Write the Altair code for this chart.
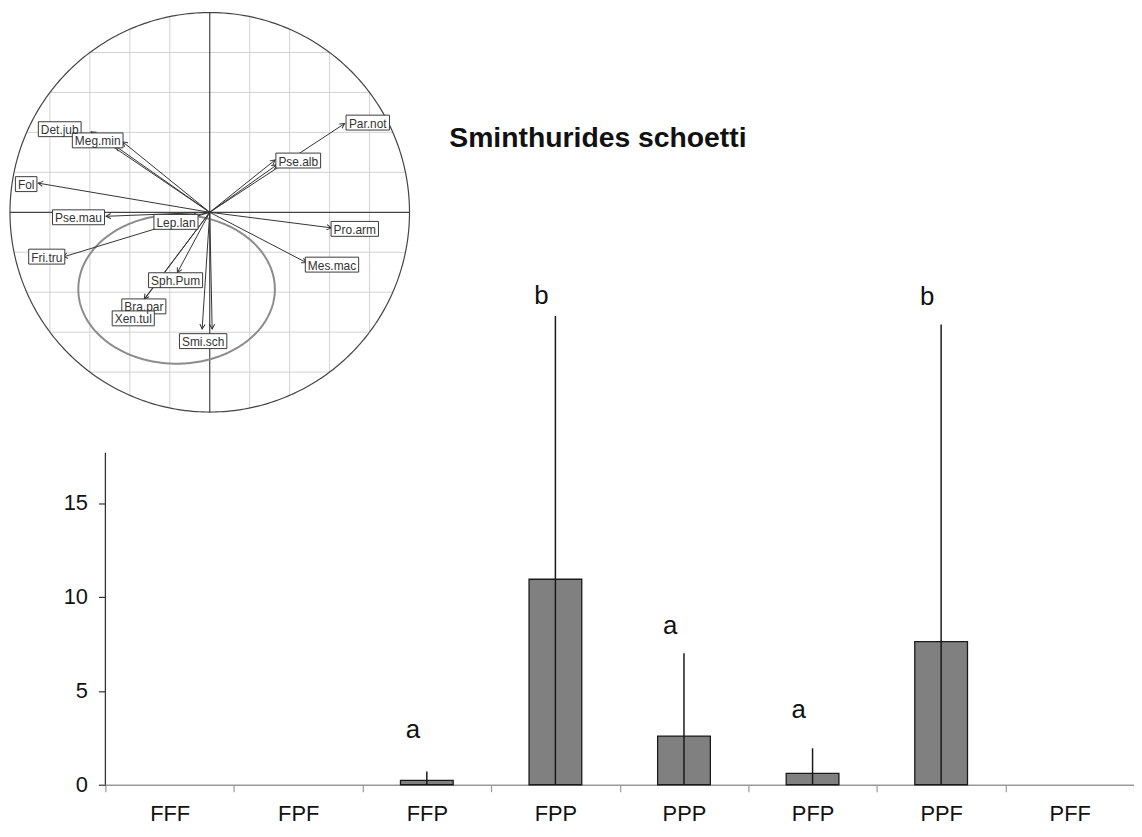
import numpy as np
import pandas as pd
import altair as alt

# ---------------- data: bar chart ----------------
CATEGORIES = ["FFF", "FPF", "FFP", "FPP", "PPP", "PFP", "PPF", "PFF"]
MEANS = [0.0, 0.0, 0.23, 10.94, 2.59, 0.60, 7.62, 0.0]
SDS = [0.0, 0.0, 0.48, 14.01, 4.41, 1.34, 16.88, 0.0]
LETTERS = ["", "", "a", "b", "a", "a", "b", ""]
LETTER_Y = [0.0, 0.0, 2.47, 25.59, 8.03, 3.53, 25.54, 0.0]
Y_TICKS = [0, 5, 10, 15]
Y_AXIS_TOP = 17.67
TITLE = "Sminthurides schoetti"

# ---------------- data: correlation circle inset ----------------
ARROW_X = [0.675, 0.327, 0.335, 0.609, 0.484, -0.038, 0.012, -0.162, -0.328,
           -0.345, -0.09, -0.519, -0.859, -0.735, -0.436, -0.470, -0.594]
ARROW_Y = [0.444, 0.262, 0.237, -0.078, -0.252, -0.584, -0.584, -0.302, -0.434,
           -0.460, -0.02, -0.020, 0.146, -0.224, 0.353, 0.330, 0.403]

LABEL_NAMES = ["Par.not", "Pse.alb", "Pro.arm", "Mes.mac", "Smi.sch", "Sph.Pum",
               "Bra.par", "Xen.tul", "Lep.lan", "Pse.mau", "Fol", "Fri.tru",
               "Det.jub", "Meg.min"]
LABEL_X = [0.791, 0.443, 0.726, 0.612, -0.033, -0.171, -0.330, -0.383, -0.169,
           -0.657, -0.919, -0.816, -0.751, -0.561]
LABEL_Y = [0.449, 0.259, -0.083, -0.262, -0.645, -0.340, -0.471, -0.531, -0.048,
           -0.025, 0.141, -0.222, 0.416, 0.360]

ELLIPSE_CENTER = (-0.166, -0.385)
ELLIPSE_RADII = (0.492, 0.373)
GRID_STEP = 0.2

# ---------------- layout ----------------
FONT = "Liberation Sans"
PAD_LEFT, PAD_TOP, PAD_RIGHT, PAD_BOTTOM = 98, 0, 0, 45
PLOT_W, PLOT_H = 1035, 779
BAR_PX_PER_UNIT = 18.9
Y_MAX = PLOT_H / BAR_PX_PER_UNIT
BAR_BAND = 0.41

# inset placement (plot-area pixel coords of circle centre, pixels per unit)
INSET_CX, INSET_CY, INSET_R = 105.0, 203.0, 201.0
XS = alt.Scale(domain=[-INSET_CX / INSET_R, (PLOT_W - INSET_CX) / INSET_R], nice=False, zero=False)
YS = alt.Scale(domain=[-(PLOT_H - INSET_CY) / INSET_R, INSET_CY / INSET_R], nice=False, zero=False)


def IX(f):
    return alt.X(f, type="quantitative", scale=XS, axis=None)


def IY(f):
    return alt.Y(f, type="quantitative", scale=YS, axis=None)


# ---------------- bar chart layers ----------------
bars_df = pd.DataFrame({"cat": CATEGORIES, "mean": MEANS, "sd": SDS,
                        "letter": LETTERS, "ly": LETTER_Y})

xenc = alt.X("cat:N", sort=CATEGORIES,
             scale=alt.Scale(domain=CATEGORIES, paddingInner=0, paddingOuter=0),
             axis=alt.Axis(title=None, labelAngle=0, tickBand="extent",
                           domainColor="#9a9a9a", domainWidth=1.5,
                           tickColor="#9a9a9a", tickWidth=1.2, tickSize=7,
                           labelFontSize=22, labelFont=FONT, labelColor="#111",
                           labelPadding=12, grid=False))
yscale = alt.Scale(domain=[0, Y_MAX], nice=False, zero=True)

base = alt.Chart(bars_df).encode(x=xenc)

bars = base.transform_filter("datum.mean > 0").mark_bar(
    color="#808080", stroke="#1a1a1a", strokeWidth=1.3,
    width=alt.RelativeBandSize(BAR_BAND)
).encode(
    y=alt.Y("mean:Q", scale=yscale,
            axis=alt.Axis(title=None, values=Y_TICKS, domain=False, grid=False,
                          tickColor="#333", tickWidth=1.2, tickSize=7,
                          labelFontSize=22, labelFont=FONT, labelColor="#111",
                          labelPadding=11))
)

errs = base.transform_filter("datum.mean > 0").transform_calculate(
    lo="max(0, datum.mean - datum.sd)", hi="datum.mean + datum.sd"
).mark_rule(color="#1a1a1a", strokeWidth=1.5).encode(
    y=alt.Y("lo:Q", scale=yscale), y2="hi:Q"
)

letters = base.transform_filter("datum.letter != ''").mark_text(
    fontSize=26, font=FONT, color="#111", dx=-14, baseline="alphabetic"
).encode(y=alt.Y("ly:Q", scale=yscale), text="letter:N")

yline_df = pd.DataFrame({"y0": [0.0], "y1": [Y_AXIS_TOP]})
yline = alt.Chart(yline_df).mark_rule(color="#333", strokeWidth=1.3).encode(
    x=alt.value(0), y=alt.Y("y0:Q", scale=yscale), y2="y1:Q"
)

bar_layer = alt.layer(bars, errs, letters, yline)

# ---------------- inset layers ----------------
grid_rows = []
for k in range(-4, 5):
    if k == 0:
        continue
    v = k * GRID_STEP
    s = float(np.sqrt(1 - v * v))
    grid_rows.append({"x1": v, "x2": v, "y1": -s, "y2": s})
    grid_rows.append({"x1": -s, "x2": s, "y1": v, "y2": v})
grid_df = pd.DataFrame(grid_rows)
grid = alt.Chart(grid_df).mark_rule(color="#d2d2d2", strokeWidth=1).encode(
    x=IX("x1"), x2="x2:Q", y=IY("y1"), y2="y2:Q")

t = np.linspace(0, 2 * np.pi, 361)
circle_df = pd.DataFrame({"x": np.cos(t), "y": np.sin(t), "i": np.arange(len(t))})
circle = alt.Chart(circle_df).mark_line(color="#444", strokeWidth=1.2).encode(
    x=IX("x"), y=IY("y"), order="i:Q")

axes_df = pd.DataFrame({"x1": [-1.0, 0.0], "x2": [1.0, 0.0], "y1": [0.0, -1.0], "y2": [0.0, 1.0]})
axes = alt.Chart(axes_df).mark_rule(color="#444", strokeWidth=1.2).encode(
    x=IX("x1"), x2="x2:Q", y=IY("y1"), y2="y2:Q")

ell_df = pd.DataFrame({
    "x": ELLIPSE_CENTER[0] + ELLIPSE_RADII[0] * np.cos(t),
    "y": ELLIPSE_CENTER[1] + ELLIPSE_RADII[1] * np.sin(t),
    "i": np.arange(len(t))})
ellipse = alt.Chart(ell_df).mark_line(color="#8c8c8c", strokeWidth=2).encode(
    x=IX("x"), y=IY("y"), order="i:Q")

arr_df = pd.DataFrame({"x0": 0.0, "y0": 0.0, "x": ARROW_X, "y": ARROW_Y})
arrow_lines = alt.Chart(arr_df).mark_rule(color="#333", strokeWidth=1).encode(
    x=IX("x0"), x2="x:Q", y=IY("y0"), y2="y:Q")
heads = alt.Chart(arr_df).transform_calculate(
    ang="(atan2(datum.x, datum.y) * 180 / PI + 360) % 360"
).mark_point(shape="M-0.55,1L0,0L0.55,1", filled=False, size=90, color="#333",
             strokeWidth=1, opacity=1).encode(
    x=IX("x"), y=IY("y"), angle=alt.Angle("ang:Q", scale=None))

# label boxes sized from approximate Arial glyph widths
CHAR_W = {'.': 278, 'a': 556, 'b': 556, 'c': 500, 'd': 556, 'e': 556, 'f': 278,
          'h': 556, 'i': 222, 'j': 222, 'k': 500, 'l': 222, 'm': 833, 'n': 556,
          'o': 556, 'p': 556, 'r': 333, 's': 500, 't': 278, 'u': 556, 'x': 500,
          'B': 667, 'D': 722, 'F': 611, 'L': 556, 'M': 833, 'P': 667, 'S': 667,
          'X': 667}
LABEL_FS = 12
BOX_PAD_PX = 5
BOX_H_PX = 15


def text_w(s):
    return sum(CHAR_W.get(c, 556) for c in s) / 1000 * LABEL_FS


lab_df = pd.DataFrame({"name": LABEL_NAMES, "x": LABEL_X, "y": LABEL_Y})
hw = lab_df["name"].map(lambda s: (text_w(s) + BOX_PAD_PX) / 2 / INSET_R)
lab_df["bx1"] = lab_df["x"] - hw
lab_df["bx2"] = lab_df["x"] + hw
lab_df["by1"] = lab_df["y"] - BOX_H_PX / 2 / INSET_R
lab_df["by2"] = lab_df["y"] + BOX_H_PX / 2 / INSET_R

boxes = alt.Chart(lab_df).mark_rect(fill="white", stroke="#3a3a3a", strokeWidth=1).encode(
    x=IX("bx1"), x2="bx2:Q", y=IY("by1"), y2="by2:Q")
texts = alt.Chart(lab_df).mark_text(fontSize=LABEL_FS, font=FONT, color="#333",
                                    baseline="middle", align="center", dy=1).encode(
    x=IX("x"), y=IY("y"), text="name:N")

inset_layer = alt.layer(grid, circle, axes, ellipse, arrow_lines, heads, boxes, texts)

chart = alt.layer(bar_layer, inset_layer).resolve_scale(
    x="independent", y="independent"
).properties(
    width=PLOT_W, height=PLOT_H,
    autosize=alt.AutoSizeParams(type="none"),
    padding={"left": PAD_LEFT, "top": PAD_TOP, "right": PAD_RIGHT, "bottom": PAD_BOTTOM},
    title=alt.TitleParams(TITLE, anchor="start", frame="group", dx=346, dy=166,
                          offset=0, fontSize=28.5, fontWeight="bold", font=FONT,
                          color="#111", baseline="alphabetic"),
    background="white",
).configure_view(strokeWidth=0)

chart.save("out.html", embed_options={"renderer": "svg", "actions": False})
